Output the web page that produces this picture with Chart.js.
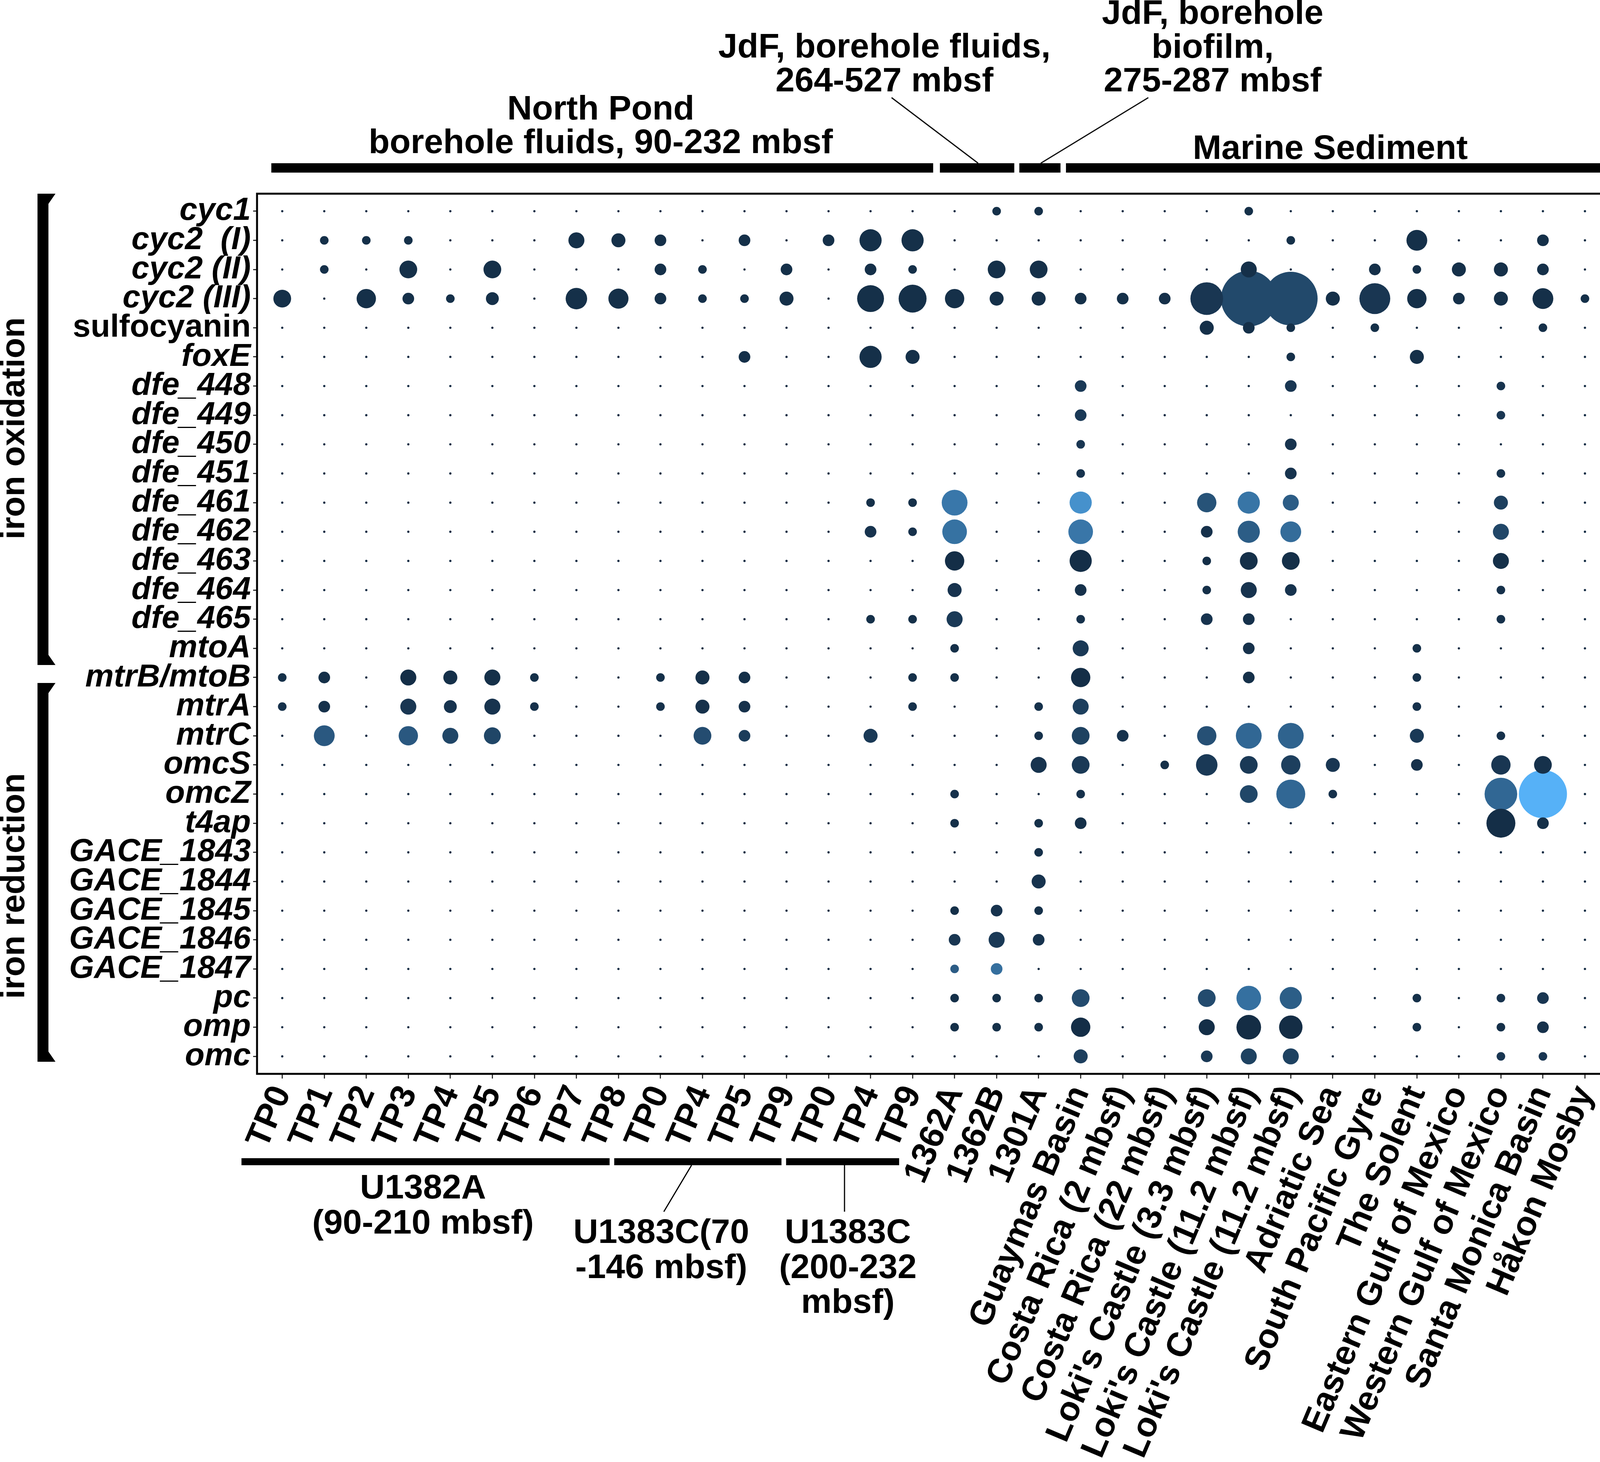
<!DOCTYPE html>
<html>
<head>
<meta charset="utf-8">
<script src="https://cdn.jsdelivr.net/npm/chart.js@4.4.1/dist/chart.umd.min.js"></script>
<style>
  html, body { margin: 0; padding: 0; background: #fff; }
  canvas { display: block; }
</style>
</head>
<body>
<canvas id="dotplot" width="4550" height="3744"></canvas>
<script>
/* ── Data ── */
const samples = [
  'TP0','TP1','TP2','TP3','TP4','TP5','TP6','TP7','TP8','TP0','TP4','TP5','TP9','TP0','TP4','TP9',
  '1362A','1362B','1301A',
  'Guaymas Basin','Costa Rica (2 mbsf)','Costa Rica (22 mbsf)',"Loki's Castle (3.3 mbsf)",
  "Loki's Castle (11.2 mbsf)","Loki's Castle (11.2 mbsf)",'Adriatic Sea','South Pacific Gyre',
  'The Solent','Eastern Gulf of Mexico','Western Gulf of Mexico','Santa Monica Basin','Håkon Mosby'
];

const genes = [
  'cyc1','cyc2  (I)','cyc2 (II)','cyc2 (III)','sulfocyanin','foxE',
  'dfe_448','dfe_449','dfe_450','dfe_451','dfe_461','dfe_462','dfe_463','dfe_464','dfe_465',
  'mtoA','mtrB/mtoB','mtrA','mtrC','omcS','omcZ','t4ap',
  'GACE_1843','GACE_1844','GACE_1845','GACE_1846','GACE_1847','pc','omp','omc'
];

// number of genes: one row per gene, one entry per sample (North Pond 16 | JdF 3 | sediment 13)
const geneCounts = [
  [0,0,0,0,0,0,0,0,0,0,0,0,0,0,0,0,  0,5,5,  0,0,0,0,5,0,0,0,0,0,0,0,0],
  [0,5,5,5,0,0,0,8,7,6,0,6,0,6,12,12,  0,0,0,  0,0,0,0,0,5,0,0,11,0,0,6,0],
  [0,5,0,9,0,9,0,0,0,6,5,0,6,0,6,5,  0,9,9,  0,0,0,0,8,0,0,6,5,7,7,6,0],
  [9,0,10,6,5,6.5,0,11.5,10.5,6,5,5,7,0,16,17,  10,7,7,  6,6,6,22,58,54,7,20,10,6,7,11,5],
  [0,0,0,0,0,0,0,0,0,0,0,0,0,0,0,0,  0,0,0,  0,0,0,7,6,5,0,5,0,0,0,5,0],
  [0,0,0,0,0,0,0,0,0,0,0,6,0,0,12,7,  0,0,0,  0,0,0,0,0,5,0,0,7,0,0,0,0],
  [0,0,0,0,0,0,0,0,0,0,0,0,0,0,0,0,  0,0,0,  6,0,0,0,0,6,0,0,0,0,5,0,0],
  [0,0,0,0,0,0,0,0,0,0,0,0,0,0,0,0,  0,0,0,  6,0,0,0,0,0,0,0,0,0,5,0,0],
  [0,0,0,0,0,0,0,0,0,0,0,0,0,0,0,0,  0,0,0,  5,0,0,0,0,6,0,0,0,0,0,0,0],
  [0,0,0,0,0,0,0,0,0,0,0,0,0,0,0,0,  0,0,0,  5,0,0,0,0,6,0,0,0,0,5,0,0],
  [0,0,0,0,0,0,0,0,0,0,0,0,0,0,5,5,  15,0,0,  12,0,0,10,12,8,0,0,0,0,7,0,0],
  [0,0,0,0,0,0,0,0,0,0,0,0,0,0,6,5,  14,0,0,  14,0,0,6,12,11,0,0,0,0,8,0,0],
  [0,0,0,0,0,0,0,0,0,0,0,0,0,0,0,0,  10,0,0,  12,0,0,5,9,9,0,0,0,0,8,0,0],
  [0,0,0,0,0,0,0,0,0,0,0,0,0,0,0,0,  7,0,0,  6,0,0,5,8,6,0,0,0,0,5,0,0],
  [0,0,0,0,0,0,0,0,0,0,0,0,0,0,5,5,  8,0,0,  5,0,0,6,6,0,0,0,0,0,5,0,0],
  [0,0,0,0,0,0,0,0,0,0,0,0,0,0,0,0,  5,0,0,  8,0,0,0,6,0,0,0,5,0,0,0,0],
  [5,6,0,8,7,8,5,0,0,5,7,6,0,0,0,5,  5,0,0,  10,0,0,0,6,0,0,0,5,0,0,0,0],
  [5,6,0,8,6.5,8,5,0,0,5,7,6,0,0,0,5,  0,0,5,  8,0,0,0,0,0,0,0,5,0,0,0,0],
  [0,11,0,10,8,8.5,0,0,0,0,9,6,0,0,7,0,  0,0,5,  9,6,0,10,15,15,0,0,7,0,5,0,0],
  [0,0,0,0,0,0,0,0,0,0,0,0,0,0,0,0,  0,0,8,  9,0,5,11.5,9,10,7,0,6,0,10,9,0],
  [0,0,0,0,0,0,0,0,0,0,0,0,0,0,0,0,  5,0,0,  5,0,0,0,9,18,5,0,0,0,22,44,0],
  [0,0,0,0,0,0,0,0,0,0,0,0,0,0,0,0,  5,0,5,  6,0,0,0,0,0,0,0,0,0,18,6,0],
  [0,0,0,0,0,0,0,0,0,0,0,0,0,0,0,0,  0,0,5,  0,0,0,0,0,0,0,0,0,0,0,0,0],
  [0,0,0,0,0,0,0,0,0,0,0,0,0,0,0,0,  0,0,7,  0,0,0,0,0,0,0,0,0,0,0,0,0],
  [0,0,0,0,0,0,0,0,0,0,0,0,0,0,0,0,  5,6,5,  0,0,0,0,0,0,0,0,0,0,0,0,0],
  [0,0,0,0,0,0,0,0,0,0,0,0,0,0,0,0,  6,8,6,  0,0,0,0,0,0,0,0,0,0,0,0,0],
  [0,0,0,0,0,0,0,0,0,0,0,0,0,0,0,0,  5,6,0,  0,0,0,0,0,0,0,0,0,0,0,0,0],
  [0,0,0,0,0,0,0,0,0,0,0,0,0,0,0,0,  5,5,5,  9,0,0,9,14,12,0,0,5,0,5,6,0],
  [0,0,0,0,0,0,0,0,0,0,0,0,0,0,0,0,  5,5,5,  10,0,0,8,14,13,0,0,5,0,5,6,0],
  [0,0,0,0,0,0,0,0,0,0,0,0,0,0,0,0,  0,0,0,  7,0,0,6,8,8,0,0,0,0,5,5,0]
];

// number of hemes (colour), same layout
const hemeCounts = [
  [0,0,0,0,0,0,0,0,0,0,0,0,0,0,0,0,  0,8,8,  0,0,0,0,8,0,0,0,0,0,0,0,0],
  [0,8,8,8,0,0,0,8,8,8,0,8,0,8,8,8,  0,0,0,  0,0,0,0,0,8,0,0,8,0,0,8,0],
  [0,8,0,8,0,8,0,0,0,8,8,0,8,0,8,8,  0,8,8,  0,0,0,0,8,0,0,8,8,8,8,8,0],
  [8,0,8,8,8,8,0,8,8,8,8,8,8,0,8,8,  8,8,8,  8,8,8,20,53,53,8,20,8,8,8,8,8],
  [0,0,0,0,0,0,0,0,0,0,0,0,0,0,0,0,  0,0,0,  0,0,0,8,8,8,0,8,0,0,0,8,0],
  [0,0,0,0,0,0,0,0,0,0,0,8,0,0,8,8,  0,0,0,  0,0,0,0,0,8,0,0,8,0,0,0,0],
  [0,0,0,0,0,0,0,0,0,0,0,0,0,0,0,0,  0,0,0,  25,0,0,0,0,20,0,0,0,0,15,0,0],
  [0,0,0,0,0,0,0,0,0,0,0,0,0,0,0,0,  0,0,0,  25,0,0,0,0,0,0,0,0,0,20,0,0],
  [0,0,0,0,0,0,0,0,0,0,0,0,0,0,0,0,  0,0,0,  20,0,0,0,0,15,0,0,0,0,0,0,0],
  [0,0,0,0,0,0,0,0,0,0,0,0,0,0,0,0,  0,0,0,  15,0,0,0,0,15,0,0,0,0,15,0,0],
  [0,0,0,0,0,0,0,0,0,0,0,0,0,0,8,8,  135,0,0,  180,0,0,70,130,88,0,0,0,0,36,0,0],
  [0,0,0,0,0,0,0,0,0,0,0,0,0,0,15,10,  125,0,0,  133,0,0,10,88,115,0,0,0,0,49,0,0],
  [0,0,0,0,0,0,0,0,0,0,0,0,0,0,0,0,  5,0,0,  5,0,0,5,8,8,0,0,0,0,8,0,0],
  [0,0,0,0,0,0,0,0,0,0,0,0,0,0,0,0,  15,0,0,  10,0,0,8,15,15,0,0,0,0,10,0,0],
  [0,0,0,0,0,0,0,0,0,0,0,0,0,0,8,8,  25,0,0,  10,0,0,15,10,0,0,0,0,0,10,0,0],
  [0,0,0,0,0,0,0,0,0,0,0,0,0,0,0,0,  8,0,0,  25,0,0,0,10,0,0,0,8,0,0,0,0],
  [8,8,0,5,8,8,8,0,0,8,8,8,0,0,0,8,  8,0,0,  5,0,0,0,8,0,0,0,8,0,0,0,0],
  [10,10,0,20,15,15,10,0,0,10,10,10,0,0,0,10,  0,0,10,  35,0,0,0,0,0,0,0,10,0,0,0,0],
  [0,80,0,80,47,47,0,0,0,0,59,30,0,0,25,0,  0,0,10,  40,15,0,66,107,99,0,0,25,0,10,0,0],
  [0,0,0,0,0,0,0,0,0,0,0,0,0,0,0,0,  0,0,15,  25,0,8,25,25,35,20,0,10,0,20,10,0],
  [0,0,0,0,0,0,0,0,0,0,0,0,0,0,0,0,  10,0,0,  10,0,0,0,49,107,10,0,0,0,107,237,0],
  [0,0,0,0,0,0,0,0,0,0,0,0,0,0,0,0,  8,0,8,  8,0,0,0,0,0,0,0,0,0,5,8,0],
  [0,0,0,0,0,0,0,0,0,0,0,0,0,0,0,0,  0,0,8,  0,0,0,0,0,0,0,0,0,0,0,0,0],
  [0,0,0,0,0,0,0,0,0,0,0,0,0,0,0,0,  0,0,15,  0,0,0,0,0,0,0,0,0,0,0,0,0],
  [0,0,0,0,0,0,0,0,0,0,0,0,0,0,0,0,  8,15,8,  0,0,0,0,0,0,0,0,0,0,0,0,0],
  [0,0,0,0,0,0,0,0,0,0,0,0,0,0,0,0,  20,25,15,  0,0,0,0,0,0,0,0,0,0,0,0,0],
  [0,0,0,0,0,0,0,0,0,0,0,0,0,0,0,0,  87,120,0,  0,0,0,0,0,0,0,0,0,0,0,0,0],
  [0,0,0,0,0,0,0,0,0,0,0,0,0,0,0,0,  8,8,8,  57,0,0,57,122,90,0,0,8,0,15,20,0],
  [0,0,0,0,0,0,0,0,0,0,0,0,0,0,0,0,  8,8,8,  5,0,0,5,3,3,0,0,8,0,8,10,0],
  [0,0,0,0,0,0,0,0,0,0,0,0,0,0,0,0,  0,0,0,  35,0,0,25,40,40,0,0,0,0,20,20,0]
];

const sizeBreaks = [5, 10, 20, 40, 60];
const hemeBreaks = [0, 50, 100, 150, 200];
const hemeMax = 237;

/* ── Size / colour scales ── */
const FONT = '"Liberation Sans", Arial, Helvetica, sans-serif';
const lowCol = [19, 43, 67], highCol = [86, 177, 247];

function hemeColor(h) {
  const t = Math.max(0, Math.min(h / hemeMax, 1));
  return 'rgb(' + lowCol.map((c, i) => Math.round(c + (highCol[i] - c) * t)).join(',') + ')';
}
function dotRadius(n) {
  if (!n) return 2.9;
  return (3 + 19 * Math.sqrt(Math.max(n - 4, 0))) / 2;
}

const points = [];
geneCounts.forEach((row, gi) => row.forEach((n, si) => {
  points.push({ x: si, y: gi, r: dotRadius(n), n: n, h: hemeCounts[gi][si] });
}));
points.sort((a, b) => b.r - a.r);

/* ── Annotations: brackets, group bars, legends ── */
const annotate = {
  id: 'annotate',
  afterDraw(chart) {
    const { ctx, chartArea: a, scales: { x } } = chart;
    const px = c => x.getPixelForValue(c);
    ctx.save();
    ctx.fillStyle = '#000';
    ctx.strokeStyle = '#000';

    // panel border
    ctx.lineWidth = 5;
    ctx.strokeRect(a.left, a.top, a.right - a.left, a.bottom - a.top);

    const txt = (s, xx, yy, size, align) => {
      ctx.font = 'bold ' + size + 'px ' + FONT;
      ctx.textAlign = align || 'center';
      ctx.textBaseline = 'alphabetic';
      ctx.fillText(s, xx, yy);
    };
    const line = (x1, y1, x2, y2, w) => {
      ctx.lineWidth = w; ctx.beginPath(); ctx.moveTo(x1, y1); ctx.lineTo(x2, y2); ctx.stroke();
    };

    // top group bars
    [[-0.26, 15.49], [15.65, 17.42], [17.54, 18.52], [18.65, 31.37]].forEach(([s, e]) => {
      ctx.fillRect(px(s), 418, px(e) - px(s), 24);
    });
    txt('North Pond', px(7.58), 306, 88);
    txt('borehole fluids, 90-232 mbsf', px(7.58), 392, 88);
    txt('JdF, borehole fluids,', px(14.33), 147, 88);
    txt('264-527 mbsf', px(14.33), 234, 88);
    txt('JdF, borehole', px(22.14), 61, 88);
    txt('biofilm,', px(22.14), 148, 88);
    txt('275-287 mbsf', px(22.14), 234, 88);
    txt('Marine Sediment', px(24.94), 407, 88);
    line(px(14.5), 250, px(16.56), 418, 3);
    line(px(20.61), 250, px(18.05), 418, 3);

    // bottom group bars
    [[-0.97, 7.79], [7.9, 11.88], [11.99, 14.68]].forEach(([s, e]) => {
      ctx.fillRect(px(s), 2966, px(e) - px(s), 18);
    });
    txt('U1382A', px(3.35), 3069, 88);
    txt('(90-210 mbsf)', px(3.35), 3159, 88);
    txt('U1383C(70', px(9.02), 3183, 88);
    txt('-146 mbsf)', px(9.02), 3273, 88);
    txt('U1383C', px(13.46), 3183, 88);
    txt('(200-232', px(13.46), 3273, 88);
    txt('mbsf)', px(13.46), 3362, 88);
    line(px(9.74), 2984, px(9.08), 3103, 3);
    line(px(13.38), 2984, px(13.38), 3103, 3);

    // left brackets
    const bracket = (y1, y2) => {
      ctx.fillRect(96, y1, 28, y2 - y1);
      ctx.beginPath(); ctx.moveTo(96, y1); ctx.lineTo(142, y1); ctx.lineTo(124, y1 + 26); ctx.closePath(); ctx.fill();
      ctx.beginPath(); ctx.moveTo(96, y2); ctx.lineTo(142, y2); ctx.lineTo(124, y2 - 26); ctx.closePath(); ctx.fill();
    };
    bracket(496, 1703);
    bracket(1749, 2719);
    const vtxt = (s, cx, cy) => {
      ctx.save(); ctx.translate(cx, cy); ctx.rotate(-Math.PI / 2);
      ctx.font = 'bold 86px ' + FONT; ctx.textAlign = 'center'; ctx.textBaseline = 'middle';
      ctx.fillText(s, 0, 0); ctx.restore();
    };
    vtxt('iron oxidation', 38, 1097);
    vtxt('iron reduction', 38, 2269);

    // size legend
    txt('Number', 4168, 586, 84, 'left');
    txt('of genes', 4168, 674, 84, 'left');
    ctx.fillStyle = '#f2f2f2';
    ctx.fillRect(4175, 714, 182, 640);
    ctx.fillStyle = '#000';
    const keyY = [757, 850, 970, 1097, 1262];
    sizeBreaks.forEach((v, i) => {
      ctx.beginPath(); ctx.arc(4267, keyY[i], dotRadius(v), 0, Math.PI * 2); ctx.fill();
      ctx.font = 'bold 86px ' + FONT; ctx.textAlign = 'right'; ctx.textBaseline = 'middle';
      ctx.fillText(String(v), 4462, keyY[i] + 6);
    });

    // colour legend
    txt('Number', 4168, 2012, 84, 'left');
    txt('of hemes', 4168, 2102, 84, 'left');
    const cbTop = 2131, cbBot = 2747, cbL = 4165, cbR = 4288;
    const g = ctx.createLinearGradient(0, cbBot, 0, cbTop);
    g.addColorStop(0, hemeColor(0));
    g.addColorStop(1, hemeColor(hemeMax));
    ctx.fillStyle = g;
    ctx.fillRect(cbL, cbTop, cbR - cbL, cbBot - cbTop);
    ctx.fillStyle = '#000';
    hemeBreaks.forEach(v => {
      const yy = cbBot - v / hemeMax * (cbBot - cbTop);
      if (v > 0) {
        ctx.strokeStyle = '#e6e6e6';
        line(cbL, yy, cbL + 24, yy, 3);
        line(cbR - 24, yy, cbR, yy, 3);
      }
      ctx.font = 'bold 86px ' + FONT; ctx.textAlign = 'left'; ctx.textBaseline = 'middle';
      ctx.fillText(String(v), 4316, v === 0 ? yy - 26 : yy - 2);
    });
    ctx.restore();
  }
};

/* ── Chart ── */
new Chart(document.getElementById('dotplot').getContext('2d'), {
  type: 'bubble',
  data: {
    datasets: [{
      data: points,
      backgroundColor: ctx => hemeColor(ctx.raw ? ctx.raw.h : 0),
      borderWidth: 0,
      hoverBorderWidth: 0
    }]
  },
  options: {
    responsive: false,
    animation: false,
    devicePixelRatio: 1,
    events: [],
    layout: { padding: { top: 496, right: 428, left: 0, bottom: 0 } },
    plugins: { legend: { display: false }, tooltip: { enabled: false } },
    scales: {
      x: {
        type: 'linear', min: -0.6, max: samples.length - 0.4,
        afterBuildTicks: s => { s.ticks = samples.map((_, i) => ({ value: i })); },
        afterFit: s => { s.height = 994; },
        border: { display: false },
        grid: { drawOnChartArea: false, drawTicks: true, tickLength: 12, color: '#333', lineWidth: 3 },
        ticks: {
          autoSkip: false, minRotation: 67, maxRotation: 67, padding: 4, color: '#000',
          font: { family: FONT, size: 88, weight: 'bold' },
          callback: v => samples[v]
        }
      },
      y: {
        type: 'linear', reverse: true, min: -0.6, max: genes.length - 0.4,
        afterBuildTicks: s => { s.ticks = genes.map((_, i) => ({ value: i })); },
        afterFit: s => { s.width = 658; },
        border: { display: false },
        grid: { drawOnChartArea: false, drawTicks: true, tickLength: 10, color: '#333', lineWidth: 3 },
        ticks: {
          autoSkip: false, padding: 6, color: '#000',
          font: c => ({ family: FONT, size: 82, weight: 'bold',
                        style: genes[c.tick && c.tick.value] === 'sulfocyanin' ? 'normal' : 'italic' }),
          callback: v => genes[v]
        }
      }
    }
  },
  plugins: [annotate]
});
</script>
</body>
</html>
